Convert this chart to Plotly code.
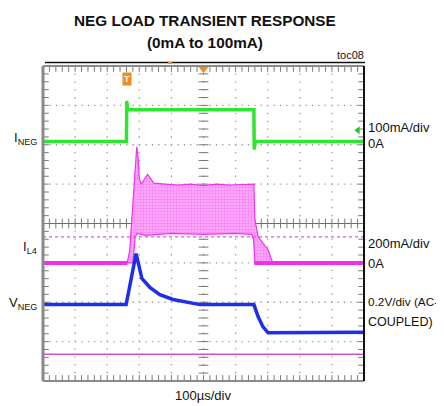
import plotly.graph_objects as go

# scope screen: 10 horizontal divs of 100us, 8 vertical divs
t_div = 100.0  # us/div

# I_NEG (green), 100mA/div, 0A level in divs
ineg_t = [0, 260, 261, 264, 657, 658, 661, 1000]
ineg_ma = [0, 0, 103, 81, 81, -20, 0, 0]
ineg_scale, ineg_zero = 100.0, 6.08

# I_L4 (magenta), 200mA/div
il4_base1_t = [0, 263]
il4_base2_t = [658, 1000]
il4_upper_t = [262, 270, 280, 288, 292, 296, 300, 306, 314, 326, 334, 345, 380, 420, 460, 500, 540, 580, 620, 650, 657, 660, 670, 701, 713, 716]
il4_upper_ma = [0, 60, 300, 520, 590, 540, 430, 400, 420, 450, 430, 405, 400, 395, 400, 392, 400, 395, 398, 400, 400, 220, 134, 67, 16, 0]
il4_lower_t = [262, 280, 287, 293, 320, 400, 500, 600, 650, 656, 660, 716]
il4_lower_ma = [0, 0, 130, 150, 140, 150, 145, 150, 145, 120, 0, 0]
il4_scale, il4_zero = 200.0, 3.0

# V_NEG (blue), 0.2V/div AC-coupled
vneg_t = [0, 259, 290, 308, 333, 364, 405, 449, 489, 657, 670, 685, 701, 1000]
vneg_mv = [0, 0, 259, 133, 87, 51, 26, 13, 0, 0, -61, -112, -143, -140]
vneg_scale, vneg_zero = 200.0, 1.94

# reference cursor lines (divs)
il4_cursor_dash = 3.66
il4_cursor_solid = 0.68

GREEN = "#2ee62e"
MAG = "#f030f0"
BLUE = "#1f2ee8"
ORANGE = "#f28c1e"
GRID = "#9a9a9a"
FONT = "Liberation Sans"

# plot area in page pixels; the page body adds an 8px margin
PAGE = 8
L, R, T, B = 43, 364, 66, 381
W, H = 444 - PAGE, 406 - PAGE


def pxx(x):
    return (x - L) / (R - L)


def pxy(y):
    return (B - y) / (B - T)


def to_div(vals, scale, zero):
    return [zero + v / scale for v in vals]


fig = go.Figure()

# dotted grid
for k in range(1, 10):
    fig.add_shape(type="line", x0=k * t_div, x1=k * t_div, y0=0, y1=8,
                  line=dict(color="#808080" if k == 5 else GRID, width=1.3, dash="1.3px,6.55px"), layer="below")
for k in range(1, 8):
    if k == 4:
        fig.add_shape(type="line", x0=0, x1=1000, y0=k, y1=k,
                      line=dict(color="#6a6a6a", width=1.2), layer="below")
    else:
        fig.add_shape(type="line", x0=0, x1=1000, y0=k, y1=k,
                      line=dict(color=GRID, width=1.3, dash="1.3px,5.1px"), layer="below")

# minor ticks on centre lines and frame edges
xt = [20 * i for i in range(1, 50)]
yt = [0.2 * i for i in range(1, 40)]
tick = dict(color="#7a7a7a", width=1)
fig.add_trace(go.Scatter(x=xt, y=[4] * len(xt), mode="markers", hoverinfo="none",
                         marker=dict(symbol="line-ns", size=7, line=tick), cliponaxis=False))
fig.add_trace(go.Scatter(x=[500] * len(yt), y=yt, mode="markers", hoverinfo="none",
                         marker=dict(symbol="line-ew", size=7, line=tick), cliponaxis=False))
fig.add_trace(go.Scatter(x=xt, y=[8 - 0.06] * len(xt), mode="markers", hoverinfo="none",
                         marker=dict(symbol="line-ns", size=5, line=tick), cliponaxis=False))
fig.add_trace(go.Scatter(x=xt, y=[0.06] * len(xt), mode="markers", hoverinfo="none",
                         marker=dict(symbol="line-ns", size=5, line=tick), cliponaxis=False))
fig.add_trace(go.Scatter(x=[7] * len(yt), y=yt, mode="markers", hoverinfo="none",
                         marker=dict(symbol="line-ew", size=5, line=tick), cliponaxis=False))
fig.add_trace(go.Scatter(x=[993] * len(yt), y=yt, mode="markers", hoverinfo="none",
                         marker=dict(symbol="line-ew", size=5, line=tick), cliponaxis=False))

# cursor lines
fig.add_shape(type="line", x0=0, x1=1000, y0=il4_cursor_dash, y1=il4_cursor_dash,
              line=dict(color="#d65ad6", width=1.3, dash="3px,3px"))
fig.add_shape(type="line", x0=0, x1=1000, y0=il4_cursor_solid, y1=il4_cursor_solid,
              line=dict(color="#d050d0", width=1.6))

# I_L4 ripple band
band_x = il4_upper_t + il4_lower_t[::-1]
band_y = to_div(il4_upper_ma + il4_lower_ma[::-1], il4_scale, il4_zero)
fig.add_trace(go.Scatter(x=band_x, y=band_y, mode="lines", fill="toself", hoverinfo="none",
                         line=dict(color=MAG, width=1.2),
                         fillcolor="#f7a6f4",
                         fillpattern=dict(shape=".", size=3, solidity=0.5, fgcolor="#ff4cff", bgcolor="#f9b6f6")))
for bx in (il4_base1_t, il4_base2_t):
    fig.add_trace(go.Scatter(x=bx, y=to_div([0, 0], il4_scale, il4_zero), mode="lines",
                             hoverinfo="none", line=dict(color=MAG, width=4)))

# I_NEG
fig.add_trace(go.Scatter(x=ineg_t, y=to_div(ineg_ma, ineg_scale, ineg_zero), mode="lines",
                         hoverinfo="none", line=dict(color=GREEN, width=3.5)))

# V_NEG
fig.add_trace(go.Scatter(x=vneg_t, y=to_div(vneg_mv, vneg_scale, vneg_zero), mode="lines",
                         hoverinfo="none", line=dict(color=BLUE, width=3.5)))

# frame
fig.add_shape(type="line", xref="paper", yref="paper", x0=0, x1=0, y0=0, y1=1, line=dict(color="#8a8a8a", width=3))
fig.add_shape(type="line", xref="paper", yref="paper", x0=0, x1=1, y0=1, y1=1, line=dict(color="#8a8a8a", width=2))
fig.add_shape(type="line", xref="paper", yref="paper", x0=0, x1=1, y0=0, y1=0, line=dict(color="#8a8a8a", width=2))
fig.add_shape(type="line", xref="paper", yref="paper", x0=1, x1=1, y0=0, y1=1, line=dict(color="#111111", width=2))
fig.add_shape(type="line", xref="paper", yref="paper", x0=pxx(45), x1=pxx(365), y0=pxy(62.5), y1=pxy(62.5),
              line=dict(color="#111111", width=1.5))
fig.add_shape(type="rect", xref="paper", yref="paper", x0=pxx(168), x1=pxx(172), y0=pxy(64), y1=pxy(62),
              line=dict(width=0), fillcolor=ORANGE)

# trigger markers
fig.add_trace(go.Scatter(x=[500], y=[7.93], mode="markers", hoverinfo="none", cliponaxis=False,
                         marker=dict(symbol="triangle-down", size=9, color=ORANGE)))
fig.add_trace(go.Scatter(x=[981], y=[6.37], mode="markers", hoverinfo="none", cliponaxis=False,
                         marker=dict(symbol="triangle-left", size=7, color="#1ec81e")))

ann = []
ann.append(dict(x=pxx(127), y=pxy(79), text="<b>T</b>", bgcolor=ORANGE, borderpad=1,
                font=dict(family=FONT, size=9, color="white")))
# titles
ann.append(dict(x=pxx(205), y=pxy(20), text="<b>NEG LOAD TRANSIENT RESPONSE</b>",
                font=dict(family=FONT, size=15.3, color="#111111")))
ann.append(dict(x=pxx(205), y=pxy(42), text="<b>(0mA to 100mA)</b>",
                font=dict(family=FONT, size=15.3, color="#111111")))
ann.append(dict(x=pxx(366), y=pxy(55), text="toc08", xanchor="right",
                font=dict(family=FONT, size=11, color="#111111")))
ann.append(dict(x=pxx(203), y=pxy(395), text="100µs/div",
                font=dict(family=FONT, size=13, color="#111111")))
# left labels
for txt, y in (("I<sub>NEG</sub>", 138), ("I<sub>L4</sub>", 248), ("V<sub>NEG</sub>", 303)):
    ann.append(dict(x=pxx(39), y=pxy(y), text=txt, xanchor="right",
                    font=dict(family=FONT, size=13, color="#111111")))
# right labels
for txt, y, fs in (("100mA/div", 127, 13), ("0A", 143, 13), ("200mA/div", 243, 13), ("0A", 263, 13),
                   ("0.2V/div (AC-", 302, 11.8), ("COUPLED)", 322, 12.5)):
    ann.append(dict(x=pxx(366), y=pxy(y), text=txt, xanchor="left",
                    font=dict(family=FONT, size=fs, color="#111111")))
for a in ann:
    a.update(xref="paper", yref="paper", showarrow=False)
    a.setdefault("yanchor", "middle")
    a.setdefault("xanchor", "center")

fig.update_layout(
    width=W, height=H, autosize=False,
    margin=dict(l=L - PAGE, r=W - (R - PAGE), t=T - PAGE, b=H - (B - PAGE), pad=0),
    plot_bgcolor="white", paper_bgcolor="white",
    showlegend=False, annotations=ann,
)
fig.update_xaxes(range=[0, 1000], showticklabels=False, showgrid=False, zeroline=False, fixedrange=True)
fig.update_yaxes(range=[0, 8], showticklabels=False, showgrid=False, zeroline=False, fixedrange=True)

fig.write_html("out.html")
